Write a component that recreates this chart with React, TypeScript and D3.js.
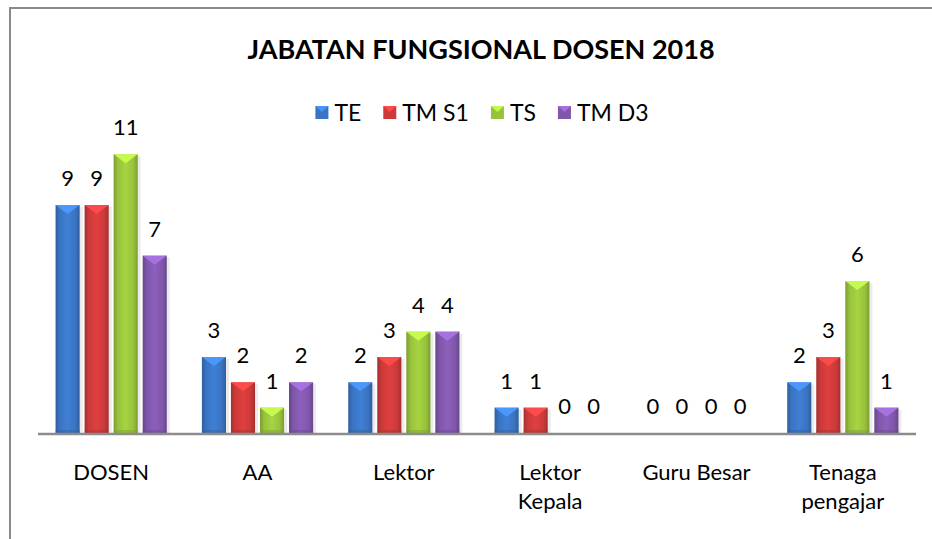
import { useEffect, useRef } from 'react';
import * as d3 from 'd3';

const categories = ['DOSEN', 'AA', 'Lektor', 'Lektor\nKepala', 'Guru Besar', 'Tenaga\npengajar'];
const seriesNames = ['TE', 'TM S1', 'TS', 'TM D3'];
const teValues = [9, 3, 2, 1, 0, 2];
const tmS1Values = [9, 2, 3, 1, 0, 3];
const tsValues = [11, 1, 4, 0, 0, 6];
const tmD3Values = [7, 2, 4, 0, 0, 1];
const seriesColors = ['#3a74c2', '#cc3a3a', '#98c23c', '#8057ab'];
const title = 'JABATAN FUNGSIONAL DOSEN 2018';

const FONT = 'Lato, "Open Sans", sans-serif';

export default function App() {
  const svgRef = useRef<SVGSVGElement>(null);

  useEffect(() => {
    if (!svgRef.current) return;
    const width = 932;
    const height = 539;
    const margin = { left: 38, right: 16, top: 129, bottom: 106 };
    const svg = d3.select(svgRef.current);
    svg.selectAll('*').remove();

    const values = [teValues, tmS1Values, tsValues, tmD3Values];
    const rows = categories.map((c, i) => ({ cat: c, vals: values.map(v => v[i]) }));

    const x0 = d3.scaleBand<string>()
      .domain(categories)
      .range([margin.left, width - margin.right])
      .paddingInner(0.24)
      .paddingOuter(0.12);
    const x1 = d3.scaleBand<string>()
      .domain(seriesNames)
      .range([0, x0.bandwidth()])
      .paddingInner(0.17)
      .paddingOuter(0);
    const y = d3.scaleLinear().domain([0, 12]).range([height - margin.bottom, margin.top]);

    const defs = svg.append('defs');
    seriesColors.forEach((c, i) => {
      const base = d3.color(c)!;
      const g = defs.append('linearGradient').attr('id', `grad${i}`)
        .attr('x1', '0%').attr('x2', '100%').attr('y1', '0%').attr('y2', '0%');
      g.append('stop').attr('offset', '0%').attr('stop-color', base.darker(0.6).formatHex());
      g.append('stop').attr('offset', '18%').attr('stop-color', c);
      g.append('stop').attr('offset', '50%').attr('stop-color', base.brighter(0.25).formatHex());
      g.append('stop').attr('offset', '82%').attr('stop-color', c);
      g.append('stop').attr('offset', '100%').attr('stop-color', base.darker(0.6).formatHex());
    });

    // border (only left and top visible)
    svg.append('rect')
      .attr('x', 10).attr('y', 8).attr('width', 1000).attr('height', 1000)
      .attr('fill', 'white').attr('stroke', '#8a8a8a').attr('stroke-width', 2);

    svg.append('text')
      .attr('x', 481).attr('y', 59)
      .attr('text-anchor', 'middle')
      .style('font-family', FONT).style('font-size', '27px').style('font-weight', 'bold')
      .text(title);

    // legend
    const legend = svg.append('g').attr('class', 'legend');
    let lx = 0;
    seriesNames.forEach((name, i) => {
      const item = legend.append('g').attr('transform', `translate(${lx},0)`);
      const base = d3.color(seriesColors[i])!;
      item.append('rect').attr('x', 0).attr('y', -7).attr('width', 13).attr('height', 13)
        .attr('fill', seriesColors[i]);
      item.append('path')
        .attr('d', 'M0,-7 L13,-7 L6.5,-1 Z')
        .attr('fill', base.brighter(0.7).formatHex());
      const t = item.append('text').attr('x', 19).attr('y', 8)
        .style('font-family', FONT).style('font-size', '23px')
        .text(name);
      const tw = (t.node() as SVGTextElement).getComputedTextLength();
      lx += 19 + tw + 22;
    });
    const lw = lx - 22;
    legend.attr('transform', `translate(${482 - lw / 2},113)`);

    // bars
    const groups = svg.append('g').selectAll('g.grp').data(rows).join('g')
      .attr('class', 'grp')
      .attr('transform', d => `translate(${x0(d.cat)},0)`);

    const bw = x1.bandwidth();
    groups.each(function (d) {
      const g = d3.select(this);
      d.vals.forEach((v, i) => {
        const bx = x1(seriesNames[i])!;
        const top = y(v);
        const h = y(0) - top;
        if (h > 0) {
          g.append('rect').attr('x', bx + 3).attr('y', top + 2).attr('width', bw).attr('height', h)
            .attr('fill', '#000').attr('opacity', 0.08);
          g.append('rect').attr('x', bx).attr('y', top).attr('width', bw).attr('height', h)
            .attr('fill', `url(#grad${i})`);
          const base = d3.color(seriesColors[i])!;
          const bev = Math.min(9, h / 2);
          g.append('path')
            .attr('d', `M${bx},${top} L${bx + bw},${top} L${bx + bw / 2},${top + bev} Z`)
            .attr('fill', base.brighter(0.8).formatHex()).attr('opacity', 0.9);
          g.append('rect').attr('x', bx).attr('y', y(0) - 3).attr('width', bw).attr('height', 3)
            .attr('fill', base.darker(0.5).formatHex()).attr('opacity', 0.5);
        }
        g.append('text')
          .attr('x', bx + bw / 2).attr('y', top - 19)
          .attr('text-anchor', 'middle')
          .style('font-family', FONT).style('font-size', '22px')
          .text(v);
      });
    });

    // axis line
    svg.append('line')
      .attr('x1', margin.left).attr('x2', width - margin.right)
      .attr('y1', y(0) + 1).attr('y2', y(0) + 1)
      .attr('stroke', '#8c8c8c').attr('stroke-width', 2.5);

    // category labels
    svg.append('g').selectAll('text').data(categories).join('text')
      .attr('x', d => x0(d)! + x0.bandwidth() / 2)
      .attr('y', 480)
      .attr('text-anchor', 'middle')
      .style('font-family', FONT).style('font-size', '22px')
      .each(function (d) {
        const t = d3.select(this);
        d.split('\n').forEach((line, i) => {
          t.append('tspan')
            .attr('x', x0(d)! + x0.bandwidth() / 2)
            .attr('dy', i === 0 ? 0 : 29)
            .text(line);
        });
      });
  }, []);

  return (
    <div style={{ position: 'fixed', left: 0, top: 0, width: 932, height: 539, background: 'white' }}>
      <svg ref={svgRef} width={932} height={539} style={{ display: 'block' }}></svg>
    </div>
  );
}
